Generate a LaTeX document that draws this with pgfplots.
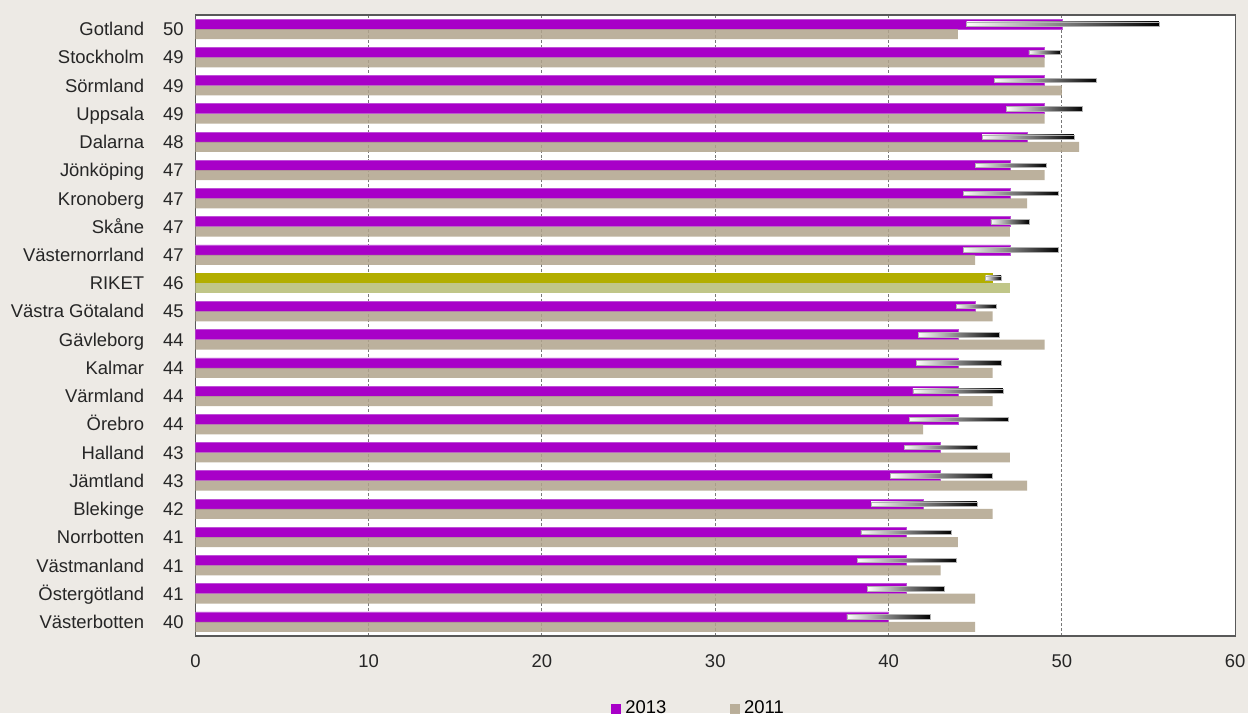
\documentclass[border=0pt]{standalone}
\usepackage{fontspec}
\setmainfont{Liberation Sans}
\usepackage{pgfplots}
\usepackage{pgfplotstable}
\pgfplotsset{compat=1.18}

\definecolor{bgc}{RGB}{237,234,229}
\definecolor{lila}{RGB}{168,0,200}
\definecolor{lilaedge}{RGB}{190,80,215}
\definecolor{tan}{RGB}{177,164,140}
\definecolor{olive}{RGB}{178,174,0}
\definecolor{oliveljus}{RGB}{192,198,136}
\definecolor{gridc}{RGB}{120,120,120}

% y = position from the bottom, v13 = 2013, v11 = 2011
\pgfplotstableread[col sep=comma]{
y,v13,v11
21,50,44
20,49,49
19,49,50
18,49,49
17,48,51
16,47,49
15,47,48
14,47,47
13,47,45
11,45,46
10,44,49
9,44,46
8,44,46
7,44,42
6,43,47
5,43,48
4,42,46
3,41,44
2,41,43
1,41,45
0,40,45
}\lan

\pgfplotstableread[col sep=comma]{
y,v13,v11
12,46,47
}\riket

% interval for 2013: lo -- hi
\pgfplotstableread[col sep=comma]{
y,lo,hi
21,44.5,55.6
20,48.1,49.9
19,46.1,52.0
18,46.8,51.2
17,45.4,50.7
16,45.0,49.1
15,44.3,49.8
14,45.9,48.1
13,44.3,49.8
12,45.6,46.5
11,43.9,46.2
10,41.7,46.4
9,41.6,46.5
8,41.4,46.6
7,41.2,46.9
6,40.9,45.1
5,40.1,46.0
4,39.0,45.1
3,38.4,43.6
2,38.2,43.9
1,38.8,43.2
0,37.6,42.4
}\intervall

\newcommand{\lbl}[2]{#1\hspace{9.5pt}\makebox[10.3pt][r]{#2}}

\begin{document}
\begin{tikzpicture}
\fill[bgc] (0,0) rectangle (626pt,357.5pt);

\begin{axis}[
  scale only axis,
  width=521.5pt, height=311.5pt,
  at={(98pt,38.5pt)}, anchor=south west,
  xmin=0, xmax=60, ymin=-0.5, ymax=21.5,
  axis background/.style={fill=white},
  axis line style={draw=gray!70!black, line width=0.6pt},
  xtick={0,10,...,60},
  ytick={0,...,21},
  yticklabels={
    \lbl{Västerbotten}{40},
    \lbl{Östergötland}{41},
    \lbl{Västmanland}{41},
    \lbl{Norrbotten}{41},
    \lbl{Blekinge}{42},
    \lbl{Jämtland}{43},
    \lbl{Halland}{43},
    \lbl{Örebro}{44},
    \lbl{Värmland}{44},
    \lbl{Kalmar}{44},
    \lbl{Gävleborg}{44},
    \lbl{Västra Götaland}{45},
    \lbl{RIKET}{46},
    \lbl{Västernorrland}{47},
    \lbl{Skåne}{47},
    \lbl{Kronoberg}{47},
    \lbl{Jönköping}{47},
    \lbl{Dalarna}{48},
    \lbl{Uppsala}{49},
    \lbl{Sörmland}{49},
    \lbl{Stockholm}{49},
    \lbl{Gotland}{50}},
  major tick length=0pt,
  tick label style={font=\fontsize{9.25}{11}\selectfont, text=black!85},
  yticklabel style={xshift=-2.4pt, text height=6.6pt, text depth=0pt},
  xticklabel style={yshift=-5.9pt},
  /pgf/number format/assume math mode=true,
  xmajorgrids,
  grid style={draw=gridc, line width=0.5pt, dash pattern=on 1.5pt off 1pt},
  bar width=5pt,
  legend style={at={(0.485,-0.1172)}, anchor=center, draw=none, fill=none,
    legend columns=2, font=\fontsize{9.25}{11}\selectfont,
    /tikz/every even column/.append style={column sep=30pt},
    inner sep=0pt},
  legend image code/.code={\draw[#1, draw=none] (0pt,-2.5pt) rectangle (5pt,2.5pt);},
]
\addplot[xbar, fill=lila, draw=lilaedge, line width=0.3pt, bar shift=2.5pt]
  table[x=v13, y=y] {\lan};
\addlegendentry{2013}
\addplot[xbar, fill=tan, fill opacity=0.85, draw=none, bar shift=-2.5pt]
  table[x=v11, y=y] {\lan};
\addlegendentry{2011}
\addplot[xbar, fill=olive, draw=none, bar shift=2.5pt, forget plot]
  table[x=v13, y=y] {\riket};
\addplot[xbar, fill=oliveljus, draw=none, bar shift=-2.5pt, forget plot]
  table[x=v11, y=y] {\riket};

% interval bars, white to black, one shading per row
\addplot[scatter, only marks, mark=*, mark size=0pt,
  mark options={draw=none, fill=none}, forget plot,
  visualization depends on={\thisrow{hi}-\thisrow{lo} \as \len},
  scatter/@pre marker code/.code={%
    \shade[left color=white, right color=black, draw=gray!60, line width=0.25pt]
      (0pt,1.4pt) rectangle ({\len*8.69167pt},3.6pt);
    \begin{scope}},
  scatter/@post marker code/.code={\end{scope}},
] table[x=lo, y=y] {\intervall};
\end{axis}
\end{tikzpicture}
\end{document}
